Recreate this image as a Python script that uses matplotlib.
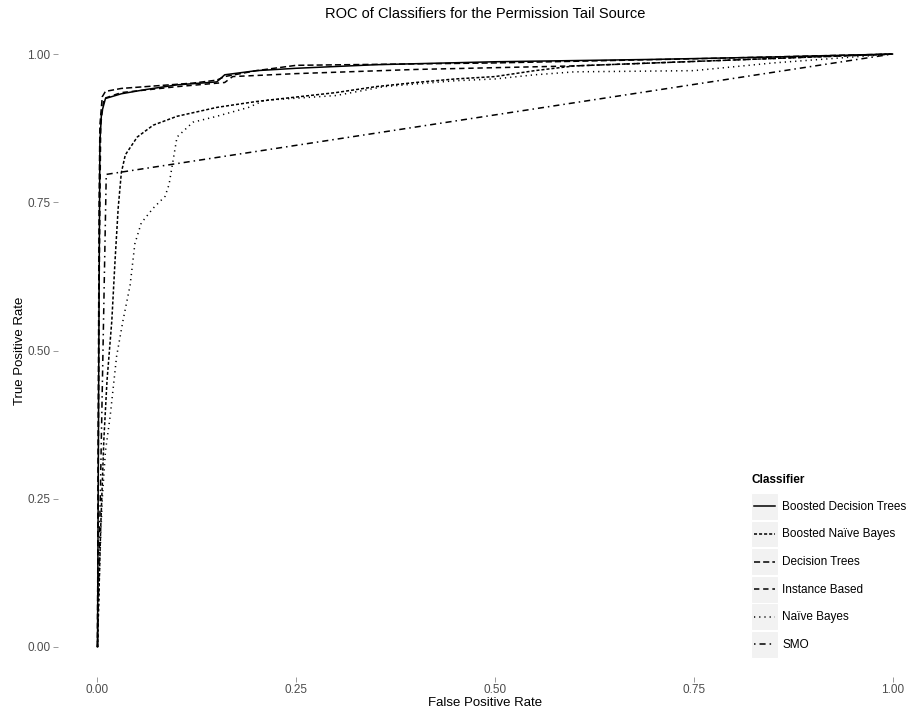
import matplotlib
matplotlib.use("Agg")
import matplotlib.pyplot as plt
from matplotlib.legend_handler import HandlerLine2D
from matplotlib.patches import Rectangle
from matplotlib.lines import Line2D

plt.rcParams['font.family'] = ['Liberation Sans', 'DejaVu Sans']

classifiers = ["Boosted Decision Trees", "Boosted Naïve Bayes", "Decision Trees",
               "Instance Based", "Naïve Bayes", "SMO"]

bdt_fpr = [0, 0.001, 0.002, 0.003, 0.005, 0.01, 0.03, 0.06, 0.1, 0.15, 0.16, 0.2, 0.25, 0.35, 0.5, 0.7, 0.85, 1]
bdt_tpr = [0, 0.3, 0.6, 0.85, 0.9, 0.925, 0.933, 0.94, 0.948, 0.953, 0.965, 0.972, 0.976, 0.982, 0.987, 0.991, 0.995, 1]

bnb_fpr = [0, 0.004, 0.008, 0.012, 0.018, 0.022, 0.026, 0.03, 0.035, 0.05, 0.07, 0.1, 0.15, 0.2, 0.3, 0.35, 0.4, 0.45, 0.5, 0.55, 0.6, 0.7, 0.8, 0.9, 1]
bnb_tpr = [0, 0.2, 0.35, 0.45, 0.55, 0.65, 0.74, 0.8, 0.83, 0.86, 0.88, 0.895, 0.91, 0.92, 0.935, 0.945, 0.952, 0.958, 0.962, 0.972, 0.98, 0.985, 0.99, 0.995, 1]

dt_fpr = [0, 0.001, 0.002, 0.003, 0.006, 0.01, 0.03, 0.08, 0.12, 0.15, 0.16, 0.2, 0.25, 0.5, 0.75, 1]
dt_tpr = [0, 0.4, 0.75, 0.88, 0.928, 0.937, 0.942, 0.947, 0.951, 0.956, 0.962, 0.972, 0.981, 0.985, 0.992, 1]

ib_fpr = [0, 0.002, 0.004, 0.008, 0.03, 0.1, 0.16, 0.17, 0.25, 0.4, 0.6, 0.8, 1]
ib_tpr = [0, 0.6, 0.88, 0.925, 0.935, 0.945, 0.952, 0.962, 0.967, 0.974, 0.98, 0.99, 1]

nb_fpr = [0, 0.003, 0.006, 0.01, 0.016, 0.024, 0.032, 0.041, 0.047, 0.055, 0.07, 0.085, 0.09, 0.095, 0.1, 0.12, 0.15, 0.19, 0.21, 0.3, 0.36, 0.45, 0.5, 0.55, 0.6, 0.75, 0.85, 1]
nb_tpr = [0, 0.15, 0.25, 0.33, 0.39, 0.49, 0.55, 0.61, 0.68, 0.715, 0.74, 0.76, 0.78, 0.82, 0.86, 0.885, 0.895, 0.91, 0.922, 0.93, 0.945, 0.955, 0.958, 0.965, 0.97, 0.972, 0.985, 1]

smo_fpr = [0, 0.011, 1]
smo_tpr = [0, 0.797, 1]

series = [(bdt_fpr, bdt_tpr), (bnb_fpr, bnb_tpr), (dt_fpr, dt_tpr),
          (ib_fpr, ib_tpr), (nb_fpr, nb_tpr), (smo_fpr, smo_tpr)]
styles = ["-", (0, (2, 1.3)), (0, (4, 2)), (0, (3.5, 2.5)), (0, (0.8, 2.6)), (0, (1, 2.6, 4, 2.6))]

W, H = 912, 717
fig = plt.figure(figsize=(W / 100, H / 100), dpi=100)
left, right, top, bottom = 57.75, 912, 24.4, 676.6
ax = fig.add_axes([left / W, 1 - bottom / H, (right - left) / W, (bottom - top) / H])
ax.set_xlim(-0.05, -0.05 + (right - left) / 795.0)
ax.set_ylim(-0.05, 1.05)

for (fx, ty), ls, name in zip(series, styles, classifiers):
    ax.plot(fx, ty, color="black", lw=1.1, linestyle=ls, label=name, dash_capstyle="butt")

for s in ax.spines.values():
    s.set_visible(False)
ticks = [0, 0.25, 0.5, 0.75, 1.0]
ax.set_xticks(ticks)
ax.set_yticks(ticks)
ax.set_xticklabels(["0.00", "0.25", "0.50", "0.75", "1.00"])
ax.set_yticklabels(["0.00", "0.25", "0.50", "0.75", "1.00"])
ax.tick_params(axis="both", colors="#8a8a8a", length=3.8, width=0.6, labelsize=8.5,
               labelcolor="#4D4D4D", pad=1.5)

ax.set_xlabel("False Positive Rate", fontsize=9.5, labelpad=1)
ax.set_ylabel("True Positive Rate", fontsize=9.5, labelpad=1)
ax.set_title("ROC of Classifiers for the Permission Tail Source", fontsize=10.5, pad=4.5)


class KeyHandler(HandlerLine2D):
    def create_artists(self, legend, orig_handle, xdescent, ydescent, width, height, fontsize, trans):
        rect = Rectangle((-xdescent, -ydescent), width, height, facecolor="#F2F2F2",
                         edgecolor="white", lw=0.8, transform=trans)
        yc = height / 2.0 - ydescent
        pad = 2.0
        line = Line2D([-xdescent + pad, -xdescent + width - pad], [yc, yc])
        self.update_prop(line, orig_handle, legend)
        line.set_transform(trans)
        return [rect, line]


handles, labels = ax.get_legend_handles_labels()
fs = 8.5
px = fs * 100 / 72
row_pt = 26.8 * 72 / 100
hh = (row_pt / fs - 0.245) / 0.65
fig.text(752 / W, 1 - 480 / H, "Classifier", fontsize=8.5, fontweight="bold", va="center", ha="left")
leg = fig.legend(handles, labels, loc="upper left",
                 bbox_to_anchor=(751 / W, 1 - 493 / H), bbox_transform=fig.transFigure,
                 frameon=False, fontsize=fs, handlelength=27 / px, handleheight=hh,
                 labelspacing=0.8 / px, handletextpad=4.5 / px, borderpad=0, borderaxespad=0,
                 handler_map={Line2D: KeyHandler()})
for t in leg.get_texts():
    t.set_color("black")

fig.savefig("out.png", dpi=100)
